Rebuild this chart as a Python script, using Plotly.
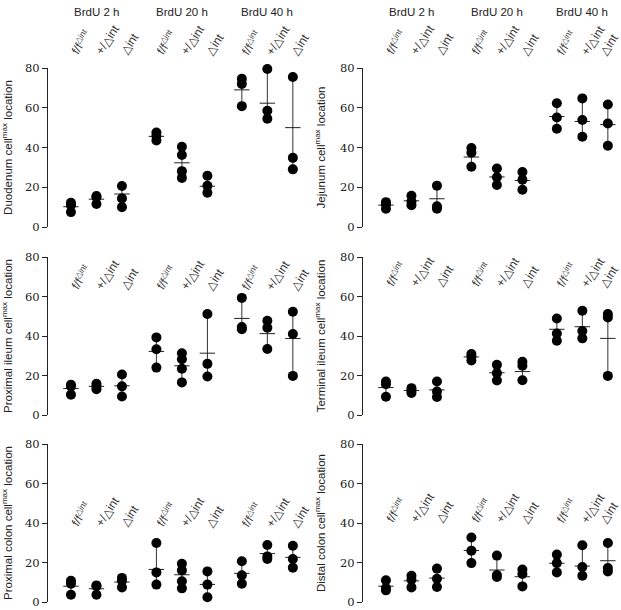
import plotly.graph_objects as go

# Column labels and time points
genotypes = ["f/f<sup>△int</sup>", "+/△int", "△int"]
timepoints = ["BrdU 2 h", "BrdU 20 h", "BrdU 40 h"]

# Order of groups: 2h (f/f, +/d, d), 20h (...), 40h (...)
duodenum_pts = [[12.2, 11.0, 7.5], [15.6, 15.0, 11.6], [20.6, 14.4, 10.0],
                [47.5, 45.8, 43.5], [40.4, 36.2, 28.1, 24.7], [25.8, 20.7, 17.2],
                [74.6, 72.0, 60.8], [79.5, 58.5, 54.5], [75.5, 34.8, 29.0]]
duodenum_mean = [10.2, 14.0, 16.6, 45.6, 32.3, 20.5, 69.0, 62.3, 50.0]

jejunum_pts = [[12.5, 11.5, 9.2], [15.7, 12.8, 11.0], [20.8, 10.4, 9.2],
               [39.7, 37.4, 30.3], [29.4, 25.0, 21.1], [27.7, 23.8, 18.7],
               [62.3, 55.1, 49.4], [64.7, 53.8, 45.4], [61.6, 52.1, 40.9]]
jejunum_mean = [11.0, 13.2, 14.2, 35.2, 25.2, 23.4, 55.6, 53.1, 51.5]

prox_ileum_pts = [[15.3, 14.5, 10.3], [15.8, 14.5, 13.1], [20.5, 14.5, 9.4],
                  [39.3, 33.3, 24.0], [31.3, 28.2, 23.4, 16.5], [51.1, 25.9, 19.5],
                  [59.3, 44.5, 43.4], [47.7, 44.2, 33.4], [52.3, 41.0, 19.8]]
prox_ileum_mean = [13.4, 14.5, 14.8, 32.2, 24.9, 31.3, 48.9, 41.2, 38.7]

term_ileum_pts = [[17.0, 15.6, 9.2], [13.6, 12.4, 11.1], [17.0, 11.9, 9.1],
                  [30.9, 29.6, 27.6], [25.4, 21.2, 17.5], [26.9, 25.0, 17.6],
                  [48.9, 41.3, 37.6], [52.8, 42.5, 38.8], [51.1, 49.4, 19.8]]
term_ileum_mean = [13.9, 12.4, 12.7, 29.4, 21.4, 22.0, 43.4, 44.7, 38.8]

prox_colon_pts = [[10.8, 9.3, 3.7], [8.4, 8.0, 3.7], [12.2, 10.8, 7.4],
                  [29.9, 15.0, 8.8], [19.4, 16.0, 10.5, 6.9], [15.5, 8.8, 2.4],
                  [20.6, 13.5, 9.3], [28.9, 23.1, 21.8], [28.5, 21.8, 17.4]]
prox_colon_mean = [8.0, 6.7, 10.1, 16.5, 13.8, 8.9, 14.5, 24.5, 22.6]

dist_colon_pts = [[11.0, 7.1, 5.9], [13.3, 11.3, 7.4], [16.9, 11.8, 7.6],
                  [32.7, 26.0, 19.7], [23.5, 13.7, 12.7], [16.4, 14.2, 7.9],
                  [24.0, 19.7, 15.0], [28.7, 17.7, 13.3], [29.9, 17.2, 15.5]]
dist_colon_mean = [8.0, 10.7, 12.1, 26.1, 16.2, 12.8, 19.6, 18.2, 20.9]

panels = [
    ("Duodenum", duodenum_pts, duodenum_mean),
    ("Jejunum", jejunum_pts, jejunum_mean),
    ("Proximal ileum", prox_ileum_pts, prox_ileum_mean),
    ("Terminal ileum", term_ileum_pts, term_ileum_mean),
    ("Proximal colon", prox_colon_pts, prox_colon_mean),
    ("Distal colon", dist_colon_pts, dist_colon_mean),
]

W, H = 621, 610
x_domains = [[48 / W, 305.6 / W], [363 / W, 620.6 / W]]
row_px = [(68, 227), (257, 415), (444, 602)]
y_domains = [[(H - b) / H, (H - t) / H] for t, b in row_px]
# pixel row where the bottom of the rotated genotype labels sits
label_px = [[60, 60], [295, 292], [532, 528]]

xs = [t * 3.35 + g for t in range(3) for g in range(3)]

fig = go.Figure()
layout = {}
annotations = []

for k, (name, pts, means) in enumerate(panels):
    row, col = k // 2, k % 2
    n = "" if k == 0 else str(k + 1)
    xa, ya = "x" + n, "y" + n

    # range lines with mean tick
    fig.add_trace(go.Scatter(
        x=xs, y=means, xaxis=xa, yaxis=ya, mode="markers",
        marker=dict(symbol="line-ew", size=11, color="#222",
                    line=dict(width=1, color="#222")),
        error_y=dict(type="data", symmetric=False,
                     array=[max(p) - m for p, m in zip(pts, means)],
                     arrayminus=[m - min(p) for p, m in zip(pts, means)],
                     width=0, thickness=1, color="#333"),
        showlegend=False, hoverinfo="skip", cliponaxis=False,
    ))
    # individual points
    px, py = [], []
    for x, p in zip(xs, pts):
        px += [x] * len(p)
        py += p
    fig.add_trace(go.Scatter(
        x=px, y=py, xaxis=xa, yaxis=ya, mode="markers",
        marker=dict(size=10, color="black"),
        showlegend=False, cliponaxis=False,
    ))

    layout["xaxis" + n] = dict(domain=x_domains[col], range=[-0.9, 9.2],
                               visible=False, anchor=ya, fixedrange=True)
    layout["yaxis" + n] = dict(
        domain=y_domains[row], range=[0, 80], anchor=xa,
        tickvals=[0, 20, 40, 60, 80], ticks="outside", ticklen=5,
        tickcolor="#222", showline=True, linecolor="#222", linewidth=1,
        showgrid=False, zeroline=False, automargin=False,
        tickfont=dict(family="DejaVu Serif", size=11.5, color="#222"),
        title=dict(text=name + " cell<sup>max</sup> location", standoff=12,
                   font=dict(family="Liberation Sans", size=11.5, color="#222")),
    )

    for i, x in enumerate(xs):
        last = col == 1 and i == len(xs) - 1
        annotations.append(dict(
            x=x, y=(H - label_px[row][col]) / H, xref=xa, yref="paper",
            text=genotypes[i % 3], textangle=-57, showarrow=False,
            xanchor="left", yanchor="bottom", xshift=-13 if last else -7,
            font=dict(family="Liberation Sans", size=12, color="#333"),
        ))
    if row == 0:
        for t in range(3):
            annotations.append(dict(
                x=xs[t * 3 + 1], y=(H - 12) / H, xref=xa, yref="paper",
                text=timepoints[t], showarrow=False,
                xanchor="center", yanchor="middle",
                font=dict(family="Liberation Sans", size=11.5, color="#222"),
            ))

fig.update_layout(
    width=W, height=H,
    margin=dict(l=0, r=0, t=0, b=0),
    paper_bgcolor="white", plot_bgcolor="white",
    annotations=annotations,
    **layout,
)

fig.write_html("out.html", config={"displayModeBar": False},
               post_script="document.body.style.margin='0';")
